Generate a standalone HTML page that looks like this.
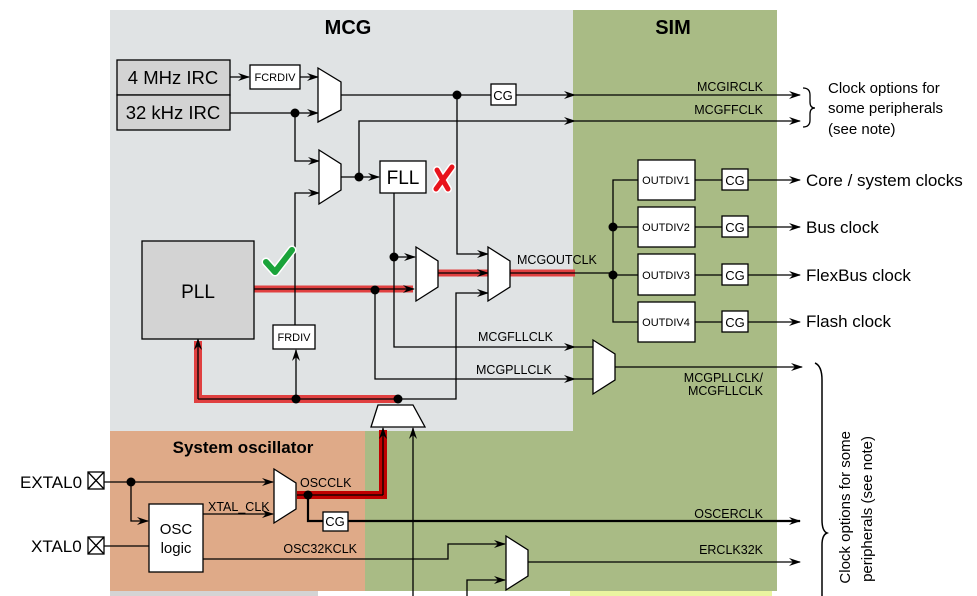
<!DOCTYPE html>
<html><head><meta charset="utf-8"><style>
html,body{margin:0;padding:0;background:#fff;}
svg{display:block;font-family:"Liberation Sans",Arial,sans-serif;}
</style></head><body>
<svg width="977" height="596" viewBox="0 0 977 596" xmlns="http://www.w3.org/2000/svg">
<defs>
<marker id="a" markerWidth="12" markerHeight="8" refX="11" refY="4" orient="auto" markerUnits="userSpaceOnUse">
<path d="M0,0 L12,4 L0,8 L4,4 Z" fill="#000"/></marker>
</defs>
<rect x="110" y="10" width="465" height="421" fill="#e0e3e4"/>
<rect x="573" y="10" width="204" height="581" fill="#a9bb85"/>
<rect x="365" y="431" width="210" height="160" fill="#a9bb85"/>
<rect x="110" y="431" width="255" height="160" fill="#dfaa88"/>
<rect x="110" y="591" width="208" height="5" fill="#d4d4d4"/>
<rect x="570" y="591" width="202" height="5" fill="#eaf5a0"/>
<text x="348" y="34" font-size="20" font-weight="bold" text-anchor="middle">MCG</text>
<text x="673" y="34" font-size="20" font-weight="bold" text-anchor="middle">SIM</text>
<text x="243" y="453" font-size="17" font-weight="bold" text-anchor="middle">System oscillator</text>

<g fill="none" stroke-linejoin="miter">
<path d="M254,289 H413" stroke="#e04040" stroke-width="7"/>
<path d="M438,273 H575" stroke="#e04040" stroke-width="7"/>
<path d="M198,341 V399 H398" stroke="#e04040" stroke-width="8"/>
<path d="M383,430 V495 H297" stroke="#c00000" stroke-width="8"/>
</g>

<g fill="none" stroke="#000" stroke-width="1.3">
<path d="M230,77 H249" marker-end="url(#a)"/>
<path d="M300,77 H318" marker-end="url(#a)"/>
<path d="M230,113 H318" marker-end="url(#a)"/>
<path d="M295,113 V161 H319" marker-end="url(#a)"/>
<path d="M341,95 H575" marker-end="url(#a)"/>
<path d="M575,95 H800" marker-end="url(#a)"/>
<path d="M359,177 V121 H575" marker-end="url(#a)"/>
<path d="M575,121 H800" marker-end="url(#a)"/>
<path d="M341,177 H379" marker-end="url(#a)"/>
<path d="M457,95 V254 H488" marker-end="url(#a)"/>
<path d="M295,325 V193 H319" marker-end="url(#a)"/>
<path d="M394,193 V347 H575" marker-end="url(#a)"/>
<path d="M394,257 H415" marker-end="url(#a)"/>
<path d="M254,289 H414" marker-end="url(#a)"/>
<path d="M375,289 V379 H575" marker-end="url(#a)"/>
<path d="M438,273 H488" marker-end="url(#a)"/>
<path d="M510,273 H613"/>
<path d="M398,399 H456 V293 H488" marker-end="url(#a)"/>
<path d="M198,399 V339" marker-end="url(#a)"/>
<path d="M296,399 V350" marker-end="url(#a)"/>
<path d="M198,399 H398"/>
<path d="M383,495 V428" marker-end="url(#a)"/>
<path d="M413,596 V428" marker-end="url(#a)"/>
<path d="M638,180 H613 V322 H638"/>
<path d="M613,227 H638 M613,275 H638"/>
<path d="M695,180 H722 M695,227 H722 M695,275 H722 M695,322 H722"/>
<path d="M748,180 H800" marker-end="url(#a)"/>
<path d="M748,227 H800" marker-end="url(#a)"/>
<path d="M748,275 H800" marker-end="url(#a)"/>
<path d="M748,322 H800" marker-end="url(#a)"/>
<path d="M575,347 H593 M575,379 H593"/>
<path d="M615,367 H802" marker-end="url(#a)"/>
<path d="M104,482 H273" marker-end="url(#a)"/>
<path d="M131,482 V521 H148" marker-end="url(#a)"/>
<path d="M104,546 H149"/>
<path d="M203,514 H273" marker-end="url(#a)"/>
<path d="M297,495 H383"/>
<path d="M308,495 V521 H323" stroke-width="2.2"/>
<path d="M348,521 H800" stroke-width="2.2" marker-end="url(#a)"/>
<path d="M203,559 H448 V544 H505" marker-end="url(#a)"/>
<path d="M467,596 V580 H505" marker-end="url(#a)"/>
<path d="M528,562 H800" marker-end="url(#a)"/>
<path d="M803,88 Q810,88 810,95 V102 Q810,108 815,108 Q810,108 810,114 V120 Q810,127 803,127"/>
<path d="M815,363 Q822,366 822,380 V520 Q822,531 827,533 Q822,535 822,545 V596" stroke-width="1.5"/>
</g>

<g stroke="#000" stroke-width="1.3">
<rect x="117" y="60" width="113" height="35" fill="#d3d3d3"/>
<rect x="117" y="95" width="113" height="35" fill="#d3d3d3"/>
<rect x="142" y="241" width="112" height="98" fill="#d3d3d3"/>
<rect x="250" y="65" width="50" height="24" fill="#fff"/>
<rect x="491" y="84" width="25" height="21" fill="#fff"/>
<rect x="380" y="161" width="46" height="32" fill="#fff"/>
<rect x="273" y="325" width="42" height="24" fill="#fff"/>
<rect x="638" y="160" width="57" height="40" fill="#fff"/>
<rect x="638" y="207" width="57" height="40" fill="#fff"/>
<rect x="638" y="254" width="57" height="41" fill="#fff"/>
<rect x="638" y="302" width="57" height="40" fill="#fff"/>
<rect x="722" y="169" width="26" height="21" fill="#fff"/>
<rect x="722" y="216" width="26" height="21" fill="#fff"/>
<rect x="722" y="264" width="26" height="21" fill="#fff"/>
<rect x="722" y="311" width="26" height="21" fill="#fff"/>
<rect x="149" y="504" width="54" height="68" fill="#fff"/>
<rect x="323" y="512" width="25" height="19" fill="#fff"/>
<rect x="88" y="472" width="16" height="17" fill="#fff"/>
<rect x="88" y="537" width="16" height="17" fill="#fff"/>
<path d="M88,472 L104,489 M104,472 L88,489 M88,537 L104,554 M104,537 L88,554" fill="none"/>
<polygon points="318,68 341,82 341,110 318,122" fill="#fff"/>
<polygon points="319,150 341,164 341,190 319,204" fill="#fff"/>
<polygon points="416,247 438,261 438,287 416,301" fill="#fff"/>
<polygon points="488,247 510,261 510,287 488,301" fill="#fff"/>
<polygon points="593,340 615,354 615,380 593,394" fill="#fff"/>
<polygon points="274,469 296,483 296,509 274,523" fill="#fff"/>
<polygon points="506,536 528,550 528,576 506,590" fill="#fff"/>
<polygon points="378,405 413,405 425,427 371,427" fill="#fff"/>
</g>

<g fill="#000">
<circle cx="295" cy="113" r="4.5"/><circle cx="457" cy="95" r="4.5"/>
<circle cx="359" cy="177" r="4.5"/><circle cx="394" cy="257" r="4.5"/>
<circle cx="375" cy="290" r="4.5"/><circle cx="296" cy="399" r="4.5"/>
<circle cx="398" cy="399" r="4.5"/><circle cx="613" cy="227" r="4.5"/>
<circle cx="613" cy="275" r="4.5"/><circle cx="131" cy="482" r="4.5"/>
<circle cx="308" cy="495" r="4.5"/>
</g>

<path d="M266,262 L275,272 L292,250" fill="none" stroke="#fff" stroke-width="9" stroke-linecap="round" stroke-linejoin="round"/>
<path d="M266,262 L275,272 L292,250" fill="none" stroke="#1aa33a" stroke-width="6" stroke-linecap="round" stroke-linejoin="round"/>
<path d="M436,189 L452,167 M437,170 L448,189" fill="none" stroke="#fff" stroke-width="8" stroke-linecap="round"/>
<path d="M436,189 L452,167 M437,170 L448,189" fill="none" stroke="#e8141c" stroke-width="5" stroke-linecap="round"/>

<g font-size="18.5" text-anchor="middle">
<text x="173" y="84">4 MHz IRC</text>
<text x="173" y="119">32 kHz IRC</text>
<text x="198" y="298" font-size="19">PLL</text>
<text x="403" y="184" font-size="19">FLL</text>
<text x="176" y="534" font-size="15">OSC</text>
<text x="176" y="553" font-size="15">logic</text>
</g>
<g font-size="11" text-anchor="middle">
<text x="275" y="81">FCRDIV</text>
<text x="294" y="341">FRDIV</text>
<text x="666" y="184">OUTDIV1</text>
<text x="666" y="231">OUTDIV2</text>
<text x="666" y="279">OUTDIV3</text>
<text x="666" y="326">OUTDIV4</text>
</g>
<g font-size="13" text-anchor="middle">
<text x="503" y="100">CG</text>
<text x="735" y="185">CG</text><text x="735" y="232">CG</text>
<text x="735" y="280">CG</text><text x="735" y="327">CG</text>
<text x="335" y="526">CG</text>
</g>
<g font-size="12.5">
<text x="763" y="91" text-anchor="end">MCGIRCLK</text>
<text x="763" y="114" text-anchor="end">MCGFFCLK</text>
<text x="517" y="264">MCGOUTCLK</text>
<text x="478" y="341">MCGFLLCLK</text>
<text x="476" y="374">MCGPLLCLK</text>
<text x="763" y="382" text-anchor="end">MCGPLLCLK/</text>
<text x="763" y="395" text-anchor="end">MCGFLLCLK</text>
<text x="763" y="518" text-anchor="end">OSCERCLK</text>
<text x="763" y="554" text-anchor="end">ERCLK32K</text>
<text x="300" y="487">OSCCLK</text>
<text x="208" y="511">XTAL_CLK</text>
<text x="357" y="553" text-anchor="end">OSC32KCLK</text>
</g>
<g font-size="17">
<text x="20" y="488">EXTAL0</text>
<text x="31" y="552">XTAL0</text>
<text x="806" y="186">Core / system clocks</text>
<text x="806" y="233">Bus clock</text>
<text x="806" y="281">FlexBus clock</text>
<text x="806" y="327">Flash clock</text>
</g>
<g font-size="15">
<text x="828" y="93">Clock options for</text>
<text x="828" y="113">some peripherals</text>
<text x="828" y="134">(see note)</text>
<text transform="translate(850,431) rotate(-90)" text-anchor="end">Clock options for some</text>
<text transform="translate(872,436) rotate(-90)" text-anchor="end">peripherals (see note)</text>
</g>
</svg>
</body></html>
